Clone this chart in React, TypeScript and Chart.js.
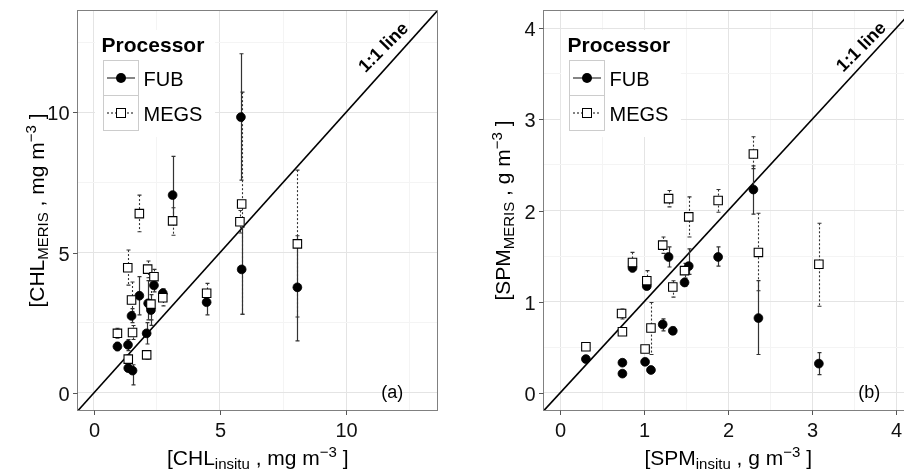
import React, { useEffect, useRef } from 'react';
import { Chart, registerables } from 'chart.js';

Chart.register(...registerables);

const FONT = '"Liberation Sans", Arial, Helvetica, sans-serif';

// ---------- Panel (a): chlorophyll ----------
const chlLimits = [-0.65, 13.65];
const chlMajorTicks = [0, 5, 10];
const chlMinorTicks = [2.5, 7.5, 12.5];

const chlFubX = [0.93, 1.35, 1.36, 1.49, 1.53, 1.80, 2.09, 2.15, 2.26, 2.38, 2.73, 3.12, 4.47, 5.83, 5.86, 8.07];
const chlFubY = [1.65, 1.71, 0.88, 2.74, 0.79, 3.46, 2.12, 3.19, 2.95, 3.83, 3.55, 7.05, 3.23, 9.83, 4.40, 3.76];
const chlFubHi = [1.80, 1.90, 1.00, 3.00, 1.00, 4.14, 2.50, 4.00, 3.50, 4.00, 3.70, 8.43, 3.50, 12.09, 5.90, 5.60];
const chlFubLo = [1.50, 1.50, 0.75, 2.50, 0.28, 2.78, 1.74, 2.60, 2.40, 3.60, 3.40, 6.00, 2.78, 7.58, 2.80, 1.85];

const chlMegsX = [0.93, 1.34, 1.36, 1.49, 1.53, 1.80, 2.09, 2.13, 2.26, 2.38, 2.73, 3.12, 4.47, 5.79, 5.86, 8.07];
const chlMegsY = [2.12, 4.46, 1.20, 3.31, 2.15, 6.39, 1.35, 4.41, 3.16, 4.14, 3.39, 6.13, 3.55, 6.10, 6.73, 5.31];
const chlMegsHi = [2.30, 5.09, 1.35, 3.95, 2.40, 7.05, 1.50, 4.70, 4.20, 4.40, 3.70, 6.60, 3.90, 6.50, 10.72, 7.94];
const chlMegsLo = [1.95, 3.84, 1.05, 2.90, 1.90, 5.74, 1.20, 4.10, 2.60, 3.90, 3.10, 5.62, 3.30, 5.70, 2.80, 2.70];

// ---------- Panel (b): suspended particulate matter ----------
const spmLimits = [-0.2, 4.2];
const spmMajorTicks = [0, 1, 2, 3, 4];
const spmMinorTicks = [0.5, 1.5, 2.5, 3.5];

const spmFubX = [0.305, 0.74, 0.74, 0.86, 1.01, 1.03, 1.08, 1.22, 1.34, 1.29, 1.48, 1.53, 1.88, 2.30, 2.36, 3.08];
const spmFubY = [0.37, 0.33, 0.21, 1.37, 0.34, 1.17, 0.25, 0.75, 0.68, 1.49, 1.21, 1.39, 1.49, 2.23, 0.82, 0.32];
const spmFubHi = [0.40, 0.36, 0.24, 1.40, 0.37, 1.20, 0.28, 0.81, 0.72, 1.60, 1.25, 1.58, 1.60, 2.49, 1.23, 0.44];
const spmFubLo = [0.34, 0.30, 0.18, 1.33, 0.31, 1.14, 0.22, 0.68, 0.64, 1.38, 1.17, 1.30, 1.39, 1.96, 0.42, 0.20];

const spmMegsX = [0.305, 0.74, 0.73, 0.86, 1.01, 1.03, 1.08, 1.22, 1.29, 1.34, 1.48, 1.53, 1.88, 2.30, 2.36, 3.08];
const spmMegsY = [0.505, 0.67, 0.87, 1.43, 0.48, 1.23, 0.71, 1.62, 2.13, 1.16, 1.34, 1.93, 2.11, 2.62, 1.54, 1.41];
const spmMegsHi = [0.54, 0.70, 0.92, 1.54, 0.51, 1.34, 0.99, 1.71, 2.22, 1.23, 1.42, 2.15, 2.23, 2.81, 1.97, 1.86];
const spmMegsLo = [0.47, 0.64, 0.81, 1.34, 0.45, 1.14, 0.42, 1.53, 2.04, 1.05, 1.26, 1.71, 1.98, 2.46, 1.12, 0.95];

const legendTitle = 'Processor';
const seriesNames = ['FUB', 'MEGS'];

type Part = { t: string; s: number; dy: number };

const chlXTitle: Part[] = [
  { t: '[CHL', s: 21, dy: 0 }, { t: 'insitu', s: 15, dy: 4 }, { t: ' , mg m', s: 21, dy: 0 },
  { t: '\u22123', s: 15, dy: -8 }, { t: ' ]', s: 21, dy: 0 },
];
const chlYTitle: Part[] = [
  { t: '[CHL', s: 21, dy: 0 }, { t: 'MERIS', s: 15, dy: 4 }, { t: ' , mg m', s: 21, dy: 0 },
  { t: '\u22123', s: 15, dy: -8 }, { t: ' ]', s: 21, dy: 0 },
];
const spmXTitle: Part[] = [
  { t: '[SPM', s: 21, dy: 0 }, { t: 'insitu', s: 15, dy: 4 }, { t: ' , g m', s: 21, dy: 0 },
  { t: '\u22123', s: 15, dy: -8 }, { t: ' ]', s: 21, dy: 0 },
];
const spmYTitle: Part[] = [
  { t: '[SPM', s: 21, dy: 0 }, { t: 'MERIS', s: 15, dy: 4 }, { t: ' , g m', s: 21, dy: 0 },
  { t: '\u22123', s: 15, dy: -8 }, { t: ' ]', s: 21, dy: 0 },
];

type Panel = {
  limits: number[];
  major: number[];
  minor: number[];
  fubX: number[]; fubY: number[]; fubLo: number[]; fubHi: number[];
  megsX: number[]; megsY: number[]; megsLo: number[]; megsHi: number[];
  xTitle: Part[]; yTitle: Part[];
  label: string; labelPos: number[];
  lineLabelPos: number[];
  yAxisWidth: number; padRight: number;
};

const panelA: Panel = {
  limits: chlLimits, major: chlMajorTicks, minor: chlMinorTicks,
  fubX: chlFubX, fubY: chlFubY, fubLo: chlFubLo, fubHi: chlFubHi,
  megsX: chlMegsX, megsY: chlMegsY, megsLo: chlMegsLo, megsHi: chlMegsHi,
  xTitle: chlXTitle, yTitle: chlYTitle,
  label: '(a)', labelPos: [11.83, 0.0], lineLabelPos: [11.5, 12.3],
  yAxisWidth: 77.6, padRight: 12,
};
const panelB: Panel = {
  limits: spmLimits, major: spmMajorTicks, minor: spmMinorTicks,
  fubX: spmFubX, fubY: spmFubY, fubLo: spmFubLo, fubHi: spmFubHi,
  megsX: spmMegsX, megsY: spmMegsY, megsLo: spmMegsLo, megsHi: spmMegsHi,
  xTitle: spmXTitle, yTitle: spmYTitle,
  label: '(b)', labelPos: [3.68, 0.0], lineLabelPos: [3.59, 3.79],
  yAxisWidth: 93.5, padRight: 6.4,
};

const CANVAS_H = 470;
const X_AXIS_H = 59;

function drawRich(ctx: CanvasRenderingContext2D, parts: Part[], cx: number, cy: number, angle: number) {
  ctx.save();
  ctx.translate(cx, cy);
  ctx.rotate(angle);
  ctx.textAlign = 'left';
  ctx.textBaseline = 'alphabetic';
  ctx.fillStyle = '#000';
  let total = 0;
  const widths = parts.map((p) => {
    ctx.font = `${p.s}px ${FONT}`;
    const w = ctx.measureText(p.t).width;
    total += w;
    return w;
  });
  let x = -total / 2;
  parts.forEach((p, i) => {
    ctx.font = `${p.s}px ${FONT}`;
    ctx.fillText(p.t, x, p.dy);
    x += widths[i];
  });
  ctx.restore();
}

function fmt(v: number) {
  return String(v);
}

function makePlugin(p: Panel) {
  return {
    id: 'panelDecor',
    afterDatasetDraw(chart: any, args: any) {
      if (args.index !== 0) return;
      const ctx: CanvasRenderingContext2D = chart.ctx;
      const xs = chart.scales.x;
      const ys = chart.scales.y;
      const a = chart.chartArea;
      ctx.save();
      ctx.beginPath();
      ctx.rect(a.left, a.top, a.right - a.left, a.bottom - a.top);
      ctx.clip();
      const sets = [
        { X: p.fubX, lo: p.fubLo, hi: p.fubHi, dash: [] as number[], color: '#333', w: 1.2 },
        { X: p.megsX, lo: p.megsLo, hi: p.megsHi, dash: [2, 2], color: '#333', w: 1.1 },
      ];
      sets.forEach((s) => {
        ctx.strokeStyle = s.color;
        ctx.lineWidth = s.w;
        s.X.forEach((xv, i) => {
          const px = Math.round(xs.getPixelForValue(xv)) + 0.5;
          const y1 = ys.getPixelForValue(s.hi[i]);
          const y2 = ys.getPixelForValue(s.lo[i]);
          ctx.setLineDash(s.dash);
          ctx.beginPath();
          ctx.moveTo(px, y1);
          ctx.lineTo(px, y2);
          ctx.stroke();
          ctx.setLineDash([]);
          ctx.beginPath();
          ctx.moveTo(px - 2, y1);
          ctx.lineTo(px + 2, y1);
          ctx.moveTo(px - 2, y2);
          ctx.lineTo(px + 2, y2);
          ctx.stroke();
        });
      });
      ctx.restore();
    },
    afterDraw(chart: any) {
      const ctx: CanvasRenderingContext2D = chart.ctx;
      const xs = chart.scales.x;
      const ys = chart.scales.y;
      const a = chart.chartArea;
      ctx.save();

      // panel border
      ctx.strokeStyle = '#808080';
      ctx.lineWidth = 1;
      const L = Math.floor(a.left) + 0.5;
      const T = Math.floor(a.top) + 0.5;
      const R = Math.round(a.right) - 0.5;
      const B = Math.round(a.bottom) - 0.5;
      ctx.strokeRect(L, T, R - L, B - T);

      // ticks and tick labels
      ctx.strokeStyle = '#555';
      ctx.fillStyle = '#111';
      ctx.font = `20px ${FONT}`;
      p.major.forEach((v) => {
        const px = Math.round(xs.getPixelForValue(v)) + 0.5;
        ctx.beginPath();
        ctx.moveTo(px, B);
        ctx.lineTo(px, B + 4.5);
        ctx.stroke();
        ctx.textAlign = 'center';
        ctx.textBaseline = 'alphabetic';
        ctx.fillText(fmt(v), px, 437);
        const py = Math.round(ys.getPixelForValue(v)) + 0.5;
        ctx.beginPath();
        ctx.moveTo(L - 4.5, py);
        ctx.lineTo(L, py);
        ctx.stroke();
        ctx.textAlign = 'right';
        ctx.fillText(fmt(v), L - 8, py + 7.2);
      });

      // axis titles
      drawRich(ctx, p.xTitle, (a.left + a.right) / 2, 465, 0);
      drawRich(ctx, p.yTitle, a.left - 34, (a.top + a.bottom) / 2, -Math.PI / 2);

      // 1:1 line label
      ctx.save();
      ctx.translate(xs.getPixelForValue(p.lineLabelPos[0]), ys.getPixelForValue(p.lineLabelPos[1]));
      ctx.rotate(-Math.PI / 4);
      ctx.font = `bold 18px ${FONT}`;
      ctx.fillStyle = '#000';
      ctx.textAlign = 'center';
      ctx.textBaseline = 'middle';
      ctx.fillText('1:1 line', 0, 0);
      ctx.restore();

      // panel label
      ctx.font = `18px ${FONT}`;
      ctx.fillStyle = '#000';
      ctx.textAlign = 'center';
      ctx.textBaseline = 'middle';
      ctx.fillText(p.label, xs.getPixelForValue(p.labelPos[0]), ys.getPixelForValue(p.labelPos[1]));

      // legend
      const lx = a.left;
      const ty = a.top;
      ctx.fillStyle = '#fff';
      ctx.fillRect(lx + 17.4, ty + 20, 120, 107);
      ctx.fillStyle = '#000';
      ctx.textAlign = 'left';
      ctx.textBaseline = 'alphabetic';
      ctx.font = `bold 21px ${FONT}`;
      ctx.fillText(legendTitle, lx + 24, ty + 41.7);
      seriesNames.forEach((name, i) => {
        const kx = Math.round(lx + 25) + 0.5;
        const ky = Math.round(ty + 50 + i * 35) + 0.5;
        ctx.fillStyle = '#fff';
        ctx.fillRect(kx, ky, 35, 35);
        ctx.strokeStyle = '#cccccc';
        ctx.lineWidth = 1;
        ctx.strokeRect(kx, ky, 35, 35);
        const cy = ky + 17.5;
        ctx.strokeStyle = '#333';
        ctx.lineWidth = 1.2;
        ctx.setLineDash(i === 0 ? [] : [2, 2]);
        ctx.beginPath();
        ctx.moveTo(kx + 3.5, cy);
        ctx.lineTo(kx + 31.5, cy);
        ctx.stroke();
        ctx.setLineDash([]);
        if (i === 0) {
          ctx.fillStyle = '#000';
          ctx.beginPath();
          ctx.arc(kx + 17.5, cy, 5, 0, Math.PI * 2);
          ctx.fill();
        } else {
          ctx.fillStyle = '#fff';
          ctx.fillRect(kx + 13, cy - 4.5, 9, 9);
          ctx.strokeStyle = '#000';
          ctx.lineWidth = 1;
          ctx.strokeRect(kx + 13, cy - 4.5, 9, 9);
        }
        ctx.fillStyle = '#000';
        ctx.font = `20px ${FONT}`;
        ctx.fillText(name, kx + 40, cy + 7.6);
      });

      ctx.restore();
    },
  };
}

function axis(p: Panel, isX: boolean) {
  const all = [...p.minor, ...p.major].sort((u, v) => u - v);
  return {
    type: 'linear',
    min: p.limits[0],
    max: p.limits[1],
    afterBuildTicks: (s: any) => {
      s.ticks = all.map((v) => ({ value: v }));
    },
    ticks: { display: false },
    grid: {
      color: (c: any) => (c.tick && p.major.includes(c.tick.value) ? '#e4e4e4' : '#f4f4f4'),
      lineWidth: 1,
      drawTicks: false,
    },
    border: { display: false },
    afterFit: (s: any) => {
      if (isX) s.height = X_AXIS_H;
      else s.width = p.yAxisWidth;
    },
  };
}

function makeConfig(p: Panel): any {
  return {
    type: 'scatter',
    data: {
      datasets: [
        {
          type: 'line',
          label: '1:1 line',
          data: [
            { x: p.limits[0], y: p.limits[0] },
            { x: p.limits[1], y: p.limits[1] },
          ],
          borderColor: '#000',
          borderWidth: 1.6,
          pointRadius: 0,
          fill: false,
          order: 3,
        },
        {
          label: seriesNames[0],
          data: p.fubX.map((x, i) => ({ x, y: p.fubY[i] })),
          pointStyle: 'circle',
          pointRadius: 4.4,
          backgroundColor: '#000',
          borderColor: '#000',
          borderWidth: 0.8,
          order: 2,
        },
        {
          label: seriesNames[1],
          data: p.megsX.map((x, i) => ({ x, y: p.megsY[i] })),
          pointStyle: 'rect',
          pointRadius: 6,
          backgroundColor: '#fff',
          borderColor: '#000',
          borderWidth: 1.1,
          order: 1,
        },
      ],
    },
    options: {
      animation: false,
      responsive: false,
      devicePixelRatio: 1,
      events: [],
      layout: { padding: { top: 10, right: p.padRight, left: 0, bottom: 0 } },
      plugins: { legend: { display: false }, tooltip: { enabled: false } },
      scales: { x: axis(p, true), y: axis(p, false) },
    },
    plugins: [makePlugin(p)],
  };
}

function PanelChart({ panel, left, width }: { panel: Panel; left: number; width: number }) {
  const ref = useRef<HTMLCanvasElement | null>(null);
  useEffect(() => {
    if (!ref.current) return;
    const chart = new Chart(ref.current, makeConfig(panel));
    return () => chart.destroy();
  }, [panel]);
  return (
    <canvas
      ref={ref}
      width={width}
      height={CANVAS_H}
      style={{ position: 'absolute', left, top: 0, width, height: CANVAS_H }}
    />
  );
}

export default function App() {
  return (
    <div
      style={{
        position: 'fixed',
        left: 0,
        top: 0,
        width: 904,
        height: 470,
        overflow: 'hidden',
        background: '#fff',
      }}
    >
      <PanelChart panel={panelA} left={0} width={450} />
      <PanelChart panel={panelB} left={450} width={470} />
    </div>
  );
}
